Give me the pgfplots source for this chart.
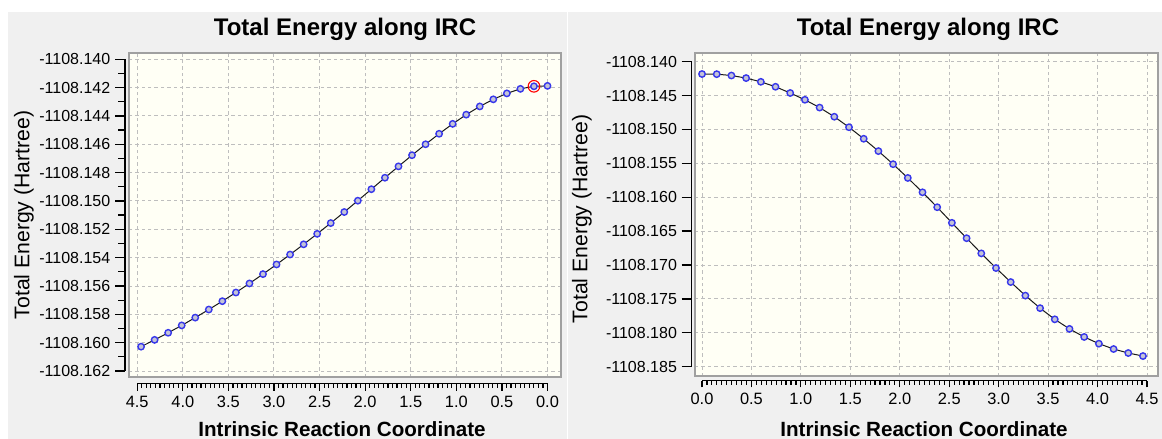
\documentclass[border=0pt]{standalone}
\usepackage{fontspec}
\setmainfont{Liberation Sans}
\usepackage{pgfplots}
\pgfplotsset{compat=1.18}
\usepackage{pgfplotstable}

\definecolor{panelbg}{HTML}{F0F0F0}
\definecolor{plotbg}{HTML}{FFFFF5}
\definecolor{boxgray}{HTML}{A0A0A0}
\definecolor{gridgray}{HTML}{BEBEBE}
\definecolor{markblue}{RGB}{55,55,235}
\definecolor{markfill}{RGB}{195,195,215}

% IRC coordinate and total energy; E column = Total Energy + 1108 (Hartree)
\pgfplotstableread{
x E
0.0000 -0.14188
0.1486 -0.14191
0.2972 -0.14209
0.4458 -0.14241
0.5944 -0.14283
0.7430 -0.14333
0.8916 -0.14391
1.0402 -0.14456
1.1888 -0.14526
1.3374 -0.14600
1.4860 -0.14677
1.6346 -0.14756
1.7832 -0.14836
1.9318 -0.14917
2.0804 -0.14998
2.2290 -0.15078
2.3776 -0.15156
2.5262 -0.15232
2.6748 -0.15306
2.8234 -0.15378
2.9720 -0.15448
3.1206 -0.15516
3.2692 -0.15582
3.4178 -0.15646
3.5664 -0.15707
3.7150 -0.15766
3.8636 -0.15823
4.0122 -0.15878
4.1608 -0.15930
4.3094 -0.15980
4.4580 -0.16028
}\leftdata

\pgfplotstableread{
x E
0.0000 -0.14182
0.1486 -0.14184
0.2972 -0.14204
0.4458 -0.14242
0.5944 -0.14297
0.7430 -0.14370
0.8916 -0.14462
1.0402 -0.14562
1.1888 -0.14677
1.3374 -0.14812
1.4860 -0.14967
1.6346 -0.15137
1.7832 -0.15319
1.9318 -0.15512
2.0804 -0.15715
2.2290 -0.15927
2.3776 -0.16147
2.5262 -0.16377
2.6748 -0.16604
2.8234 -0.16828
2.9720 -0.17044
3.1206 -0.17251
3.2692 -0.17451
3.4178 -0.17636
3.5664 -0.17801
3.7150 -0.17942
3.8636 -0.18061
4.0122 -0.18160
4.1608 -0.18239
4.3094 -0.18298
4.4580 -0.18343
}\rightdata

\pgfplotsset{
  /pgf/number format/assume math mode=true,
  mainbox/.style={scale only axis, anchor=south west, enlargelimits=false, clip=false,
    axis background/.style={fill=plotbg},
    axis line style={boxgray, line width=0.8pt},
    grid=major,
    major grid style={gridgray, dash pattern=on 1.7pt off 1.5pt, line width=0.5pt},
    major tick length=0pt, minor tick length=0pt,
    xticklabels={}, yticklabels={},
    xtick={0,0.5,1,1.5,2,2.5,3,3.5,4,4.5},
  },
  yruler/.style={scale only axis, anchor=south west, width=1pt, xmin=0, xmax=1,
    enlargelimits=false, axis y line*=left, axis x line=none, xtick=\empty,
    tick align=outside,
    axis line style={black, line width=0.65pt},
    every tick/.style={black, line width=0.65pt},
    major tick length=5pt, minor tick length=3.3pt,
    yticklabel style={font=\fontsize{8}{9}\selectfont, inner sep=2.2pt},
  },
  xruler/.style={scale only axis, anchor=south west, height=1pt, ymin=0, ymax=1,
    xmin=0, xmax=4.5,
    enlargelimits=false, axis x line*=bottom, axis y line=none, ytick=\empty,
    tick align=outside,
    axis line style={black, line width=0.65pt},
    every tick/.style={black, line width=0.6pt},
    xtick={0,0.5,1,1.5,2,2.5,3,3.5,4,4.5}, minor x tick num=9,
    major tick length=3.4pt, minor tick length=2pt,
    xticklabel style={font=\fontsize{8.2}{9}\selectfont, inner sep=2.5pt,
      /pgf/number format/fixed, /pgf/number format/fixed zerofill,
      /pgf/number format/precision=1},
  },
  ircline/.style={color=black!90, line width=0.5pt,
    mark=*, mark size=1.6pt,
    mark options={draw=markblue, fill=markfill, line width=0.7pt, solid}},
}

\begin{document}
\begin{tikzpicture}[x=0.5pt, y=0.5pt]
\useasboundingbox (0,0) rectangle (1162,439);
\fill[white] (0,0) rectangle (1162,439);
\fill[panelbg] (8,0) rectangle (566.5,427);
\fill[panelbg] (568,0) rectangle (1162,427);

% ---------------- left panel ----------------
\begin{axis}[mainbox, at={(64.65pt,31pt)}, width=215.85pt, height=162pt,
  x dir=reverse, xmin=-0.148, xmax=4.587, ymin=-0.16242, ymax=-0.13956,
  ytick={-0.162,-0.16,-0.158,-0.156,-0.154,-0.152,-0.15,-0.148,-0.146,-0.144,-0.142,-0.14}]
  \addplot[ircline] table[x=x, y=E] {\leftdata};
  \addplot[only marks, mark=o, mark size=2.9pt, mark options={draw=red, line width=0.55pt}]
    coordinates {(0.1486,-0.14191)};
\end{axis}
\begin{axis}[yruler, at={(62.5pt,34pt)}, height=155.85pt, ymin=-0.162, ymax=-0.140,
  ytick={-0.162,-0.16,-0.158,-0.156,-0.154,-0.152,-0.15,-0.148,-0.146,-0.144,-0.142,-0.14},
  yticklabels={-1108.162,-1108.160,-1108.158,-1108.156,-1108.154,-1108.152,-1108.150,-1108.148,-1108.146,-1108.144,-1108.142,-1108.140},
  minor y tick num=1]
\end{axis}
\begin{axis}[xruler, at={(68.6pt,27.6pt)}, width=205.15pt, x dir=reverse]
\end{axis}
\node[font=\fontsize{12}{14}\selectfont\bfseries, anchor=base] at (345,403) {Total Energy along IRC};
\node[font=\fontsize{10.3}{12}\selectfont\bfseries, anchor=base] at (342,2.5) {Intrinsic Reaction Coordinate};
\node[font=\fontsize{10.6}{12}\selectfont, rotate=90, anchor=center] at (24,224) {Total Energy (Hartree)};

% ---------------- right panel ----------------
\begin{axis}[mainbox, at={(347.5pt,31.5pt)}, width=231.5pt, height=161.35pt,
  xmin=-0.071, xmax=4.61, ymin=-0.18637, ymax=-0.13876,
  ytick={-0.185,-0.18,-0.175,-0.17,-0.165,-0.16,-0.155,-0.15,-0.145,-0.14}]
  \addplot[ircline] table[x=x, y=E] {\rightdata};
\end{axis}
\begin{axis}[yruler, at={(345.85pt,36.15pt)}, height=152.5pt, ymin=-0.185, ymax=-0.140,
  ytick={-0.185,-0.18,-0.175,-0.17,-0.165,-0.16,-0.155,-0.15,-0.145,-0.14},
  yticklabels={-1108.185,-1108.180,-1108.175,-1108.170,-1108.165,-1108.160,-1108.155,-1108.150,-1108.145,-1108.140}]
\end{axis}
\begin{axis}[xruler, at={(351pt,29.15pt)}, width=222.5pt]
\end{axis}
\node[font=\fontsize{12}{14}\selectfont\bfseries, anchor=base] at (928,403) {Total Energy along IRC};
\node[font=\fontsize{10.3}{12}\selectfont\bfseries, anchor=base] at (924,2.5) {Intrinsic Reaction Coordinate};
\node[font=\fontsize{10.6}{12}\selectfont, rotate=90, anchor=center] at (582,220) {Total Energy (Hartree)};
\end{tikzpicture}
\end{document}
